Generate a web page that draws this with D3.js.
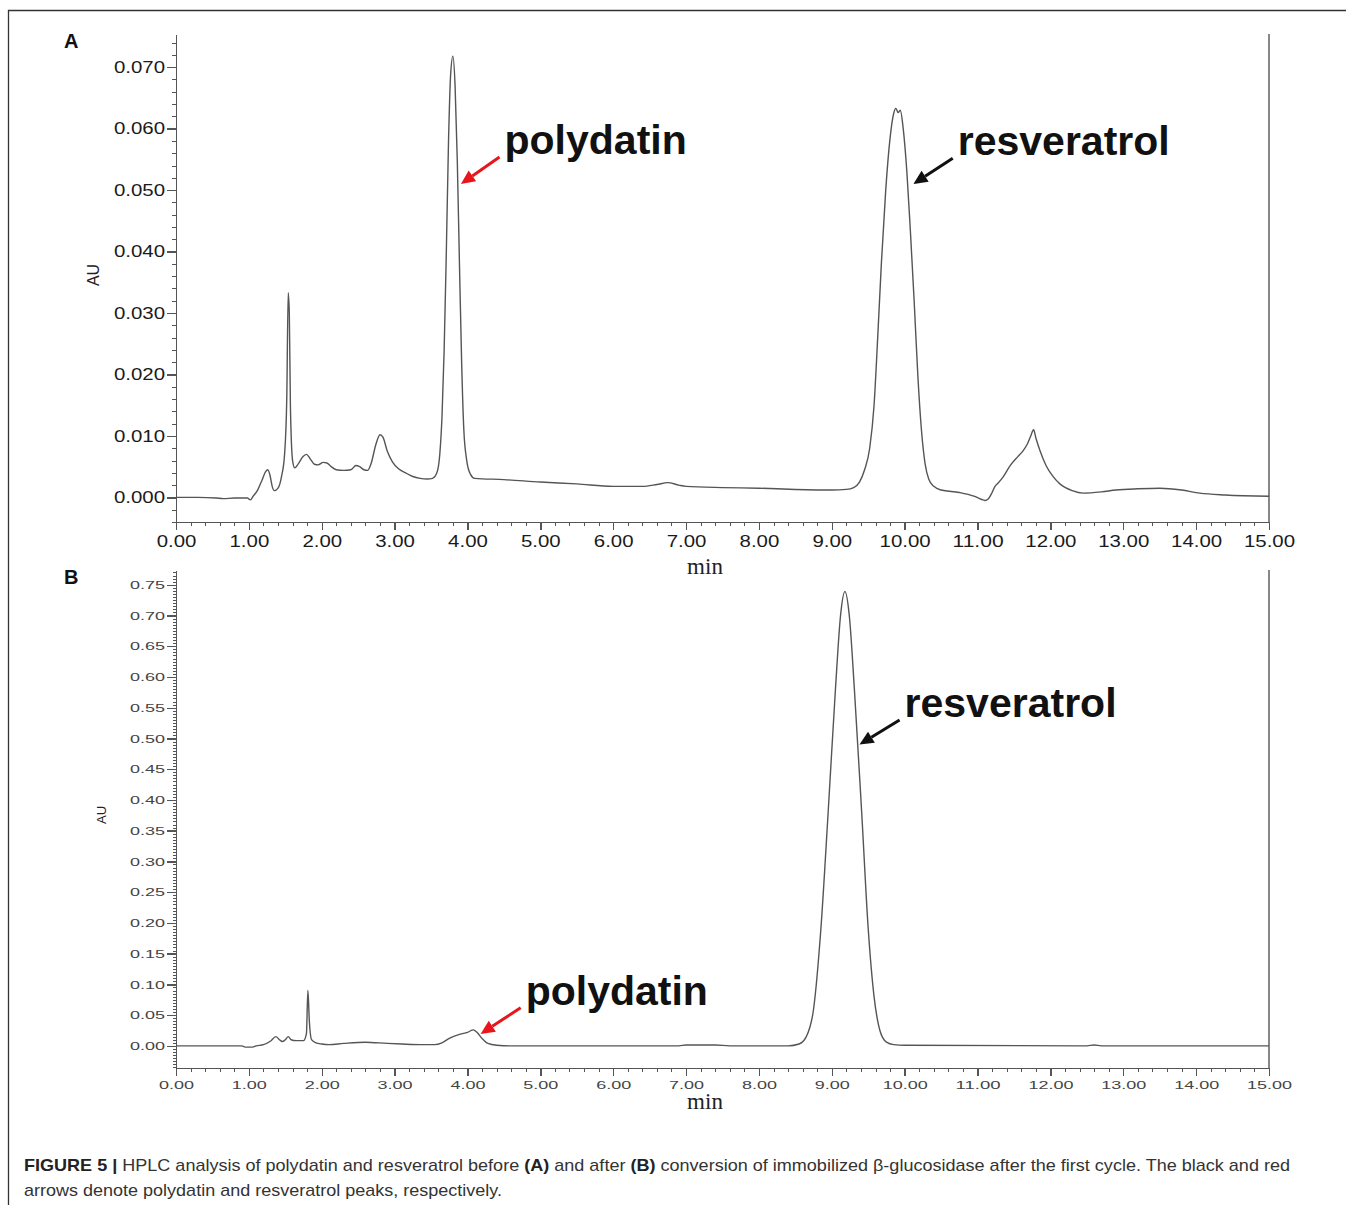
<!doctype html>
<html>
<head>
<meta charset="utf-8">
<title>HPLC polydatin / resveratrol</title>
<script src="https://cdn.jsdelivr.net/npm/d3@7"></script>
<style>
body { margin: 0; background: #fff; }
svg { display: block; }
.trace { fill: none; stroke: #555; stroke-width: 1.4; }
.axis path, .axis line { stroke: #555; stroke-width: 1.4; shape-rendering: crispEdges; }
.minor line { stroke-width: 1; }
.ann { font-family: 'Liberation Sans', Arial, sans-serif; font-weight: bold; font-size: 41px; fill: #111; }
.panel { font-family: 'Liberation Sans', Arial, sans-serif; font-weight: bold; font-size: 20px; fill: #111; }
.unit { font-family: 'Liberation Serif', 'Times New Roman', serif; font-size: 23px; fill: #222; }
.cap { font-family: 'Liberation Sans', Arial, sans-serif; font-size: 17px; fill: #333; }
</style>
</head>
<body>
<script>
// ---- data ----
// panel A: before conversion
var aTime = [0.00,0.30,0.55,0.65,0.80,0.98,1.02,1.06,1.12,1.18,1.23,1.26,1.29,1.32,1.35,1.40,1.45,1.49,1.52,1.54,1.555,1.57,1.60,1.63,1.68,1.74,1.79,1.84,1.90,1.95,2.02,2.07,2.13,2.20,2.30,2.40,2.47,2.52,2.58,2.63,2.68,2.74,2.80,2.84,2.90,2.97,3.05,3.15,3.25,3.35,3.45,3.52,3.58,3.62,3.65,3.68,3.71,3.74,3.77,3.80,3.83,3.86,3.89,3.92,3.95,3.99,4.04,4.10,4.50,5.00,5.50,6.00,6.40,6.60,6.75,6.90,7.00,7.50,8.00,8.50,9.00,9.20,9.30,9.38,9.45,9.52,9.58,9.63,9.68,9.74,9.80,9.85,9.88,9.91,9.94,9.98,10.03,10.08,10.13,10.18,10.23,10.28,10.33,10.40,10.50,10.75,10.95,11.05,11.10,11.15,11.20,11.24,11.28,11.35,11.45,11.55,11.62,11.68,11.73,11.77,11.80,11.86,11.94,12.03,12.13,12.30,12.45,12.70,12.90,13.20,13.50,13.80,14.05,14.40,15.00];
var aAU = [0.0000,0.0000,-0.0001,-0.0002,-0.0001,-0.0001,-0.0004,0.0002,0.0012,0.0028,0.0042,0.0045,0.0036,0.0018,0.0011,0.0015,0.0035,0.0070,0.0160,0.0333,0.0300,0.0150,0.0060,0.0048,0.0055,0.0066,0.0070,0.0063,0.0054,0.0053,0.0057,0.0056,0.0050,0.0045,0.0044,0.0045,0.0052,0.0050,0.0045,0.0044,0.0056,0.0085,0.0102,0.0098,0.0075,0.0058,0.0047,0.0040,0.0034,0.0031,0.0030,0.0031,0.0040,0.0070,0.0130,0.0240,0.0400,0.0580,0.0690,0.0718,0.0670,0.0550,0.0380,0.0220,0.0110,0.0060,0.0038,0.0031,0.0029,0.0025,0.0022,0.0018,0.0018,0.0021,0.0024,0.0020,0.0018,0.0016,0.0015,0.0013,0.0012,0.0013,0.0016,0.0025,0.0045,0.0080,0.0150,0.0260,0.0380,0.0500,0.0585,0.0625,0.0633,0.0626,0.0630,0.0600,0.0530,0.0430,0.0320,0.0200,0.0110,0.0055,0.0030,0.0018,0.0012,0.0008,0.0002,-0.0003,-0.0005,-0.0002,0.0008,0.0018,0.0023,0.0033,0.0052,0.0066,0.0075,0.0086,0.0100,0.0110,0.0097,0.0075,0.0052,0.0035,0.0022,0.0011,0.0007,0.0009,0.0012,0.0014,0.0015,0.0012,0.0007,0.0004,0.0002];

// panel B: after conversion
var bTime = [0.00,0.90,0.95,1.05,1.10,1.20,1.30,1.37,1.42,1.46,1.50,1.54,1.58,1.65,1.75,1.79,1.81,1.83,1.86,1.92,2.00,2.10,2.30,2.60,2.90,3.10,3.40,3.55,3.65,3.75,3.90,4.00,4.08,4.13,4.20,4.28,4.40,4.60,6.90,7.00,7.40,7.60,8.40,8.55,8.65,8.75,8.85,8.95,9.05,9.12,9.18,9.24,9.31,9.41,9.50,9.58,9.66,9.75,9.85,10.00,12.50,12.60,12.70,15.00];
var bAU = [0.000,0.000,-0.002,-0.002,0.000,0.002,0.008,0.015,0.010,0.007,0.010,0.015,0.010,0.0085,0.0085,0.020,0.090,0.040,0.010,0.005,0.003,0.002,0.004,0.006,0.004,0.003,0.002,0.002,0.005,0.012,0.019,0.022,0.026,0.022,0.012,0.004,0.001,0.000,0.000,0.0015,0.0015,0.000,0.000,0.003,0.015,0.060,0.190,0.380,0.580,0.700,0.739,0.700,0.580,0.380,0.190,0.080,0.025,0.006,0.002,0.001,0.000,0.0015,0.000,0.000];

// tick labels
var xTicks = d3.range(0, 16);
var aYTicks = [0, 0.01, 0.02, 0.03, 0.04, 0.05, 0.06, 0.07];
var bYTicks = d3.range(0, 16).map(function(i) { return i * 0.05; });

// peak labels: name, arrow tip (t, AU), arrow tail (t, AU)
var aLabels = ['polydatin', 'resveratrol'];
var aTips = [[3.91, 0.0510], [10.12, 0.0510]];
var aTails = [[4.44, 0.0554], [10.66, 0.0552]];
var bLabels = ['resveratrol', 'polydatin'];
var bTips = [[9.38, 0.490], [4.18, 0.0195]];
var bTails = [[9.93, 0.530], [4.73, 0.062]];
var arrowColors = { polydatin: '#e8161b', resveratrol: '#111' };

// ---- canvas ----
var W = 1346, H = 1205;
var svg = d3.select('body').append('svg').attr('width', W).attr('height', H);
svg.append('rect').attr('width', W).attr('height', H).attr('fill', '#fff');

// figure frame (top + left edge)
svg.append('path').attr('d', 'M8.5,1205 L8.5,10.5 L1346,10.5')
  .attr('fill', 'none').attr('stroke', '#333').attr('stroke-width', 1.3);

var panels = [
  { letter: 'A', t: aTime, v: aAU, yDom: [-0.004, 0.0754], top: 34, bottom: 522,
    yMajor: aYTicks, yMinorStep: 0.002, yFmt: d3.format('.3f'),
    labels: aLabels, tips: aTips, tails: aTails, big: true },
  { letter: 'B', t: bTime, v: bAU, yDom: [-0.036, 0.774], top: 570, bottom: 1068,
    yMajor: bYTicks, yMinorStep: 0.005, yFmt: d3.format('.2f'),
    labels: bLabels, tips: bTips, tails: bTails, big: false }
];

var left = 176, right = 1269;

// label width so that the wide tick font of the figure is kept
function labelLen(s, dw, pw) {
  var n = 0;
  for (var i = 0; i < s.length; i++) n += (s[i] === '.') ? pw : dw;
  return n;
}

panels.forEach(function(p) {
  var x = d3.scaleLinear().domain([0, 15]).range([left, right]);
  var y = d3.scaleLinear().domain(p.yDom).range([p.bottom, p.top]);
  var g = svg.append('g');

  var fs = p.big ? 16 : 11.5;
  var dw = p.big ? 11.4 : 10;
  var pw = p.big ? 5.5 : 5;
  var tcol = p.big ? '#1a1a1a' : '#444';

  // minor ticks
  var xMinor = d3.range(0, 75).map(function(i) { return i * 0.2; }).filter(function(d) { return Math.abs(d - Math.round(d)) > 1e-6; });
  g.append('g').attr('class', 'axis minor').attr('transform', 'translate(0,' + p.bottom + ')')
    .call(d3.axisBottom(x).tickValues(xMinor).tickSize(4).tickSizeOuter(0).tickFormat(''))
    .select('.domain').remove();
  var n0 = Math.ceil(p.yDom[0] / p.yMinorStep), n1 = Math.floor(p.yDom[1] / p.yMinorStep);
  var yMinor = d3.range(n0, n1 + 1).map(function(i) { return i * p.yMinorStep; });
  g.append('g').attr('class', 'axis minor').attr('transform', 'translate(' + left + ',0)')
    .call(d3.axisLeft(y).tickValues(yMinor).tickSize(p.big ? 4 : 3).tickSizeOuter(0).tickFormat(''))
    .select('.domain').remove();

  // major axes
  var xa = g.append('g').attr('class', 'axis').attr('transform', 'translate(0,' + p.bottom + ')')
    .call(d3.axisBottom(x).tickValues(xTicks).tickSize(8).tickSizeOuter(0).tickPadding(p.big ? 6 : 5).tickFormat(d3.format('.2f')));
  var ya = g.append('g').attr('class', 'axis').attr('transform', 'translate(' + left + ',0)')
    .call(d3.axisLeft(y).tickValues(p.yMajor).tickSize(9).tickSizeOuter(0).tickPadding(2).tickFormat(p.yFmt));

  [xa, ya].forEach(function(a) {
    a.selectAll('text')
      .style('font-family', "'Liberation Sans', Arial, sans-serif")
      .style('font-size', fs + 'px')
      .attr('fill', tcol)
      .attr('lengthAdjust', 'spacingAndGlyphs')
      .attr('textLength', function() { return labelLen(this.textContent, dw, pw); });
  });

  // right frame line
  g.append('line').attr('x1', right).attr('x2', right).attr('y1', p.top).attr('y2', p.bottom)
    .attr('stroke', '#555').attr('stroke-width', 1.4);

  // trace
  var line = d3.line()
    .x(function(d, i) { return x(p.t[i]); })
    .y(function(d) { return y(d); })
    .curve(d3.curveMonotoneX);
  g.append('path').attr('class', 'trace').attr('d', line(p.v));

  // titles
  g.append('text').attr('class', 'panel').attr('x', 64).attr('y', p.top + 14).text(p.letter);
  g.append('text').attr('class', 'unit').attr('x', 705).attr('y', p.bottom + (p.big ? 52 : 41))
    .attr('text-anchor', 'middle').text('min');
  var auX = p.big ? 93 : 101, auY = p.big ? 275 : 815;
  g.append('text').attr('transform', 'translate(' + auX + ',' + auY + ') rotate(-90)')
    .attr('text-anchor', 'middle').attr('dy', '0.35em')
    .style('font-family', "'Liberation Sans', Arial, sans-serif")
    .style('font-size', p.big ? '16px' : '13px').attr('fill', '#222').text('AU');

  // peak labels with arrows
  p.labels.forEach(function(name, i) {
    var tx = x(p.tails[i][0]), ty = y(p.tails[i][1]);
    var hx = x(p.tips[i][0]), hy = y(p.tips[i][1]);
    var col = arrowColors[name];
    var ang = Math.atan2(hy - ty, hx - tx);
    var hl = 14, hw = 6.5;
    var bx = hx - hl * Math.cos(ang), by = hy - hl * Math.sin(ang);
    g.append('line').attr('x1', tx).attr('y1', ty).attr('x2', bx).attr('y2', by)
      .attr('stroke', col).attr('stroke-width', 3);
    g.append('path').attr('fill', col).attr('d',
      'M' + hx + ',' + hy +
      'L' + (bx + hw * Math.sin(ang)) + ',' + (by - hw * Math.cos(ang)) +
      'L' + (bx - hw * Math.sin(ang)) + ',' + (by + hw * Math.cos(ang)) + 'Z');
    g.append('text').attr('class', 'ann')
      .attr('x', tx + 5).attr('y', ty - 3).text(name);
  });
});

// caption
var cap = svg.append('g');
var l1 = cap.append('text').attr('class', 'cap').attr('x', 24).attr('y', 1171)
  .attr('textLength', 1266).attr('lengthAdjust', 'spacingAndGlyphs');
l1.append('tspan').attr('font-weight', 'bold').attr('fill', '#222').text('FIGURE 5 | ');
l1.append('tspan').text('HPLC analysis of polydatin and resveratrol before ');
l1.append('tspan').attr('font-weight', 'bold').attr('fill', '#222').text('(A)');
l1.append('tspan').text(' and after ');
l1.append('tspan').attr('font-weight', 'bold').attr('fill', '#222').text('(B)');
l1.append('tspan').text(' conversion of immobilized \u03b2-glucosidase after the first cycle. The black and red');
cap.append('text').attr('class', 'cap').attr('x', 24).attr('y', 1196)
  .attr('textLength', 478).attr('lengthAdjust', 'spacingAndGlyphs')
  .text('arrows denote polydatin and resveratrol peaks, respectively.');
</script>
</body>
</html>
